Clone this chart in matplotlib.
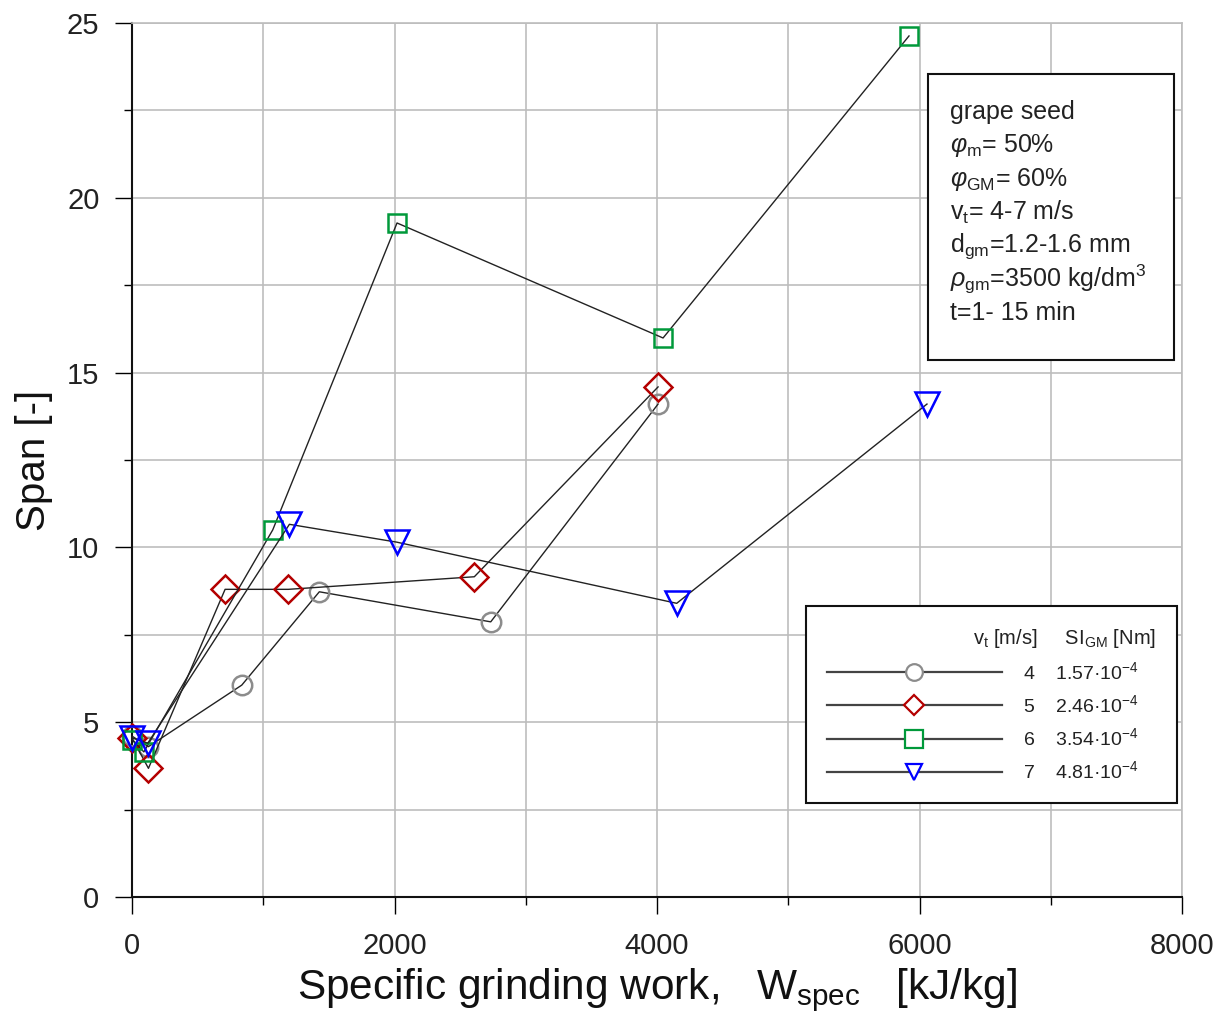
import matplotlib
matplotlib.use("Agg")
import matplotlib.pyplot as plt
from matplotlib.lines import Line2D
from matplotlib.patches import Rectangle
from matplotlib.ticker import MultipleLocator

plt.rcParams['font.family'] = ['Liberation Sans', 'DejaVu Sans']
plt.rcParams['mathtext.fontset'] = 'custom'
plt.rcParams['mathtext.rm'] = 'Liberation Sans'
plt.rcParams['mathtext.it'] = 'Liberation Sans:italic'
plt.rcParams['mathtext.bf'] = 'Liberation Sans:bold'

# data: specific grinding work [kJ/kg] vs span [-]
w_v4 = [0, 125, 836, 1427, 2733, 4008]
span_v4 = [4.6, 4.3, 6.06, 8.73, 7.87, 14.1]

w_v5 = [0, 125, 709, 1191, 2608, 4008]
span_v5 = [4.55, 3.68, 8.8, 8.8, 9.16, 14.59]

w_v6 = [0, 90, 1072, 2019, 4046, 5920]
span_v6 = [4.5, 4.15, 10.5, 19.28, 15.99, 24.63]

w_v7 = [0, 120, 1199, 2017, 4150, 6057]
span_v7 = [4.55, 4.4, 10.66, 10.15, 8.4, 14.1]

speeds = ["4", "5", "6", "7"]
stress = ["1.57", "2.46", "3.54", "4.81"]

info_lines = ["grape seed",
              "$\\varphi_{\\mathrm{m}}$= 50%",
              "$\\varphi_{\\mathrm{GM}}$= 60%",
              "v$_{\\mathrm{t}}$= 4-7 m/s",
              "d$_{\\mathrm{gm}}$=1.2-1.6 mm",
              "$\\rho_{\\mathrm{gm}}$=3500 kg/dm$^3$",
              "t=1- 15 min"]

series = [
    (w_v4, span_v4, "o", "#8c8c8c", 14, 12),
    (w_v5, span_v5, "D", "#b40000", 14, 10),
    (w_v6, span_v6, "s", "#00993a", 12.5, 13),
    (w_v7, span_v7, "v", "#0000ff", 17.5, 12),
]

fig = plt.figure(figsize=(12.26, 10.23), dpi=100)
ax = fig.add_axes([0.1077, 0.1232, 0.8564, 0.8543])

handles = []
labels = []
for (x, y, mk, col, ms, lms), v, si in zip(series, speeds, stress):
    ax.plot(x, y, color="#222222", lw=1.0, marker=mk, ms=ms, mfc="none",
            mec=col, mew=1.8, clip_on=False, zorder=3)
    handles.append(Line2D([], [], color="#444444", lw=1.6, marker=mk, ms=lms,
                          mfc="white", mec=col, mew=1.6))
    labels.append(f"{v}    {si}\u00b710$^{{-4}}$    ")

ax.set_xlim(0, 8000)
ax.set_ylim(0, 25)
ax.xaxis.set_major_locator(MultipleLocator(2000))
ax.xaxis.set_minor_locator(MultipleLocator(1000))
ax.yaxis.set_major_locator(MultipleLocator(5))
ax.yaxis.set_minor_locator(MultipleLocator(2.5))
ax.grid(True, which="both", color="#bdbdbd", lw=1.2, zorder=0)
ax.set_axisbelow(True)

ax.tick_params(which="major", direction="out", length=12.5, width=1.0,
               labelsize=21, labelcolor="#222222", pad=13)
ax.tick_params(which="minor", direction="out", length=6, width=1.0)
ax.tick_params(axis="y", pad=11)
for s in ["left", "bottom"]:
    ax.spines[s].set_linewidth(1.5)
    ax.spines[s].set_color("#111111")
for s in ["top", "right"]:
    ax.spines[s].set_color("#bdbdbd")
    ax.spines[s].set_linewidth(1.2)

ax.set_xlabel("Specific grinding work,   W$_{\\mathrm{spec}}$   [kJ/kg]",
              fontsize=30.5, color="#111111", labelpad=4)
ax.set_ylabel("Span [-]", fontsize=29, color="#111111", labelpad=10)

# info box
ax.add_patch(Rectangle((0.758, 0.614), 0.992 - 0.758, 0.328,
                       transform=ax.transAxes, facecolor="white",
                       edgecolor="#111111", lw=1.5, zorder=5))
for i, line in enumerate(info_lines):
    ax.text(0.779, 0.898 - i * 0.0383, line, transform=ax.transAxes,
            fontsize=18, color="#222222", va="center", ha="left", zorder=6)

leg = ax.legend(handles, labels, loc="lower right",
                bbox_to_anchor=(0.995, 0.1076), borderaxespad=0,
                fontsize=14, handlelength=9.0, handletextpad=1.1,
                labelspacing=0.58, borderpad=1.05, frameon=True, fancybox=False,
                framealpha=1, edgecolor="#111111",
                title="v$_{\\mathrm{t}}$ [m/s]     SI$_{\\mathrm{GM}}$ [Nm]",
                title_fontsize=14.5, alignment="right")
leg.get_frame().set_linewidth(1.5)
leg.set_zorder(6)
for t in leg.get_texts():
    t.set_color("#222222")
leg.get_title().set_color("#222222")

fig.savefig("out.png", dpi=100)
